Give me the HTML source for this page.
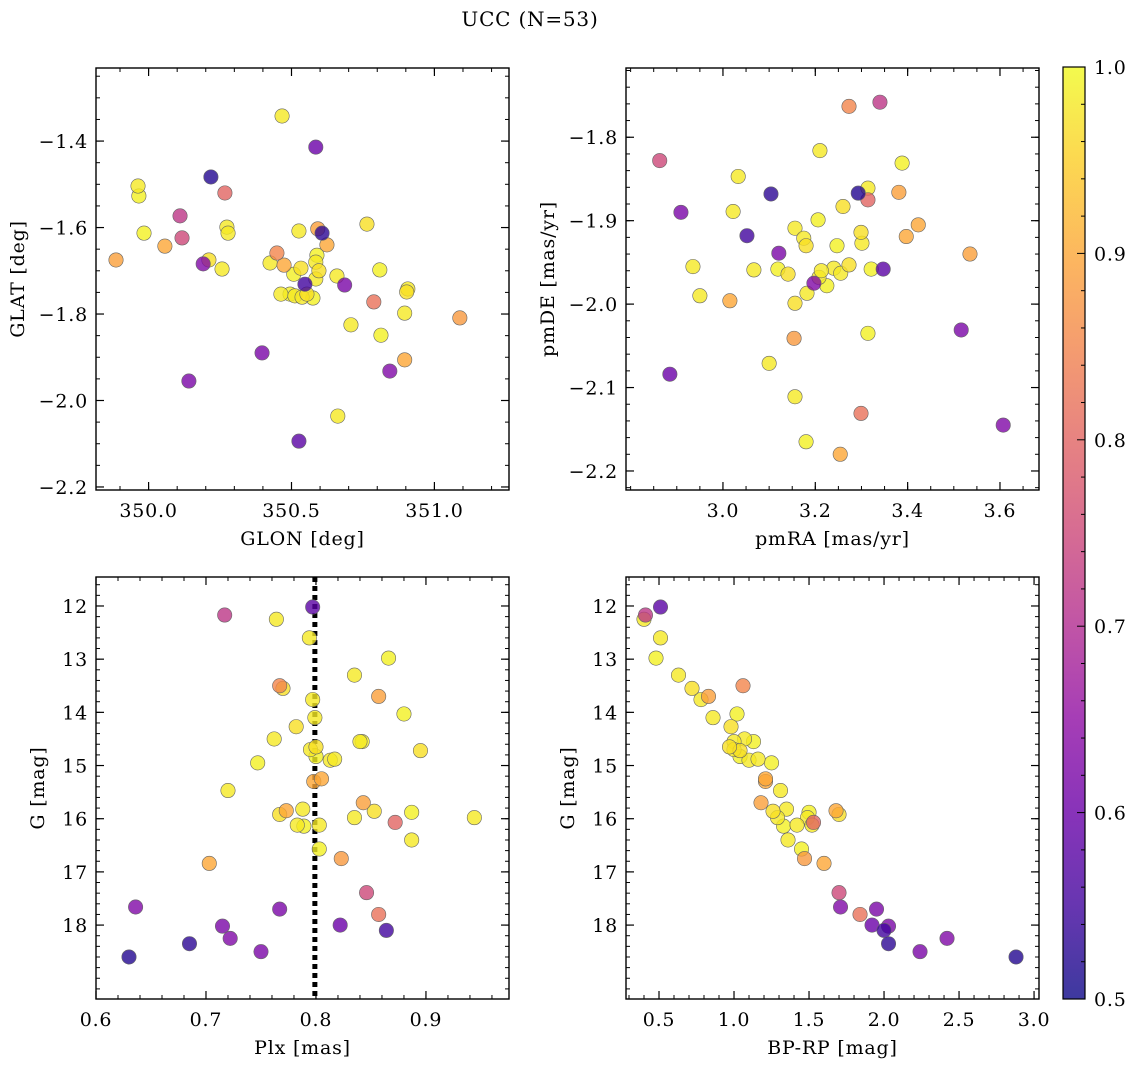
<!DOCTYPE html>
<html><head><meta charset="utf-8"><style>
body{margin:0;background:#fff;}
svg{display:block;font-family:"DejaVu Serif","Liberation Serif",serif;}
</style></head><body>
<svg id="chart" width="1136" height="1067" viewBox="0 0 1136 1067" xmlns="http://www.w3.org/2000/svg">
<defs>
<linearGradient id="plasma" x1="0" y1="1" x2="0" y2="0"></linearGradient>
</defs>
<text x="530" y="26" text-anchor="middle" font-size="20" letter-spacing="0.8">UCC (N=53)</text>
</svg>
<script>
// star data (one entry per star)
const prob = [0.52,0.53,0.55,0.58,0.60,0.63,0.62,0.62,0.63,0.62,
 0.72,0.75,0.80,0.82,0.85,0.89,0.90,0.90,0.89,0.90,0.88,0.90,
 0.98,0.98,0.99,0.98,0.97,0.98,0.99,0.98,0.97,0.98,0.99,0.98,0.98,0.97,0.99,0.98,0.98,0.99,0.98,0.97,0.98,0.99,0.98,0.98,0.97,0.99,0.98,0.98,0.99,0.98,0.97];
const plx = [0.630,0.685,0.864,0.797,0.822,0.636,0.767,0.715,0.722,0.750,
 0.717,0.846,0.872,0.857,0.767,0.857,0.798,0.805,0.843,0.773,0.823,0.703,
 0.764,0.794,0.866,0.835,0.770,0.797,0.880,0.799,0.782,0.762,0.842,0.840,0.795,0.895,0.800,0.813,0.817,0.747,0.720,0.853,0.788,0.887,0.944,0.835,0.767,0.789,0.783,0.887,0.803,0.803,0.800];
const gmag = [18.60,18.35,18.10,12.02,18.00,17.66,17.70,18.02,18.25,18.50,
 12.17,17.39,16.07,17.80,13.50,13.70,15.30,15.25,15.70,15.85,16.75,16.84,
 12.25,12.60,12.98,13.30,13.55,13.76,14.03,14.10,14.27,14.50,14.55,14.55,14.70,14.72,14.83,14.90,14.88,14.95,15.47,15.86,15.82,15.88,15.98,15.98,15.92,16.14,16.12,16.40,16.57,16.12,14.65];
const bprp = [2.88,2.03,2.00,0.51,1.92,1.71,1.95,2.03,2.42,2.24,
 0.41,1.70,1.53,1.84,1.06,0.83,1.21,1.21,1.18,1.68,1.47,1.60,
 0.40,0.51,0.48,0.63,0.72,0.78,1.02,0.86,0.98,1.07,1.13,1.00,1.00,1.04,1.04,1.10,1.16,1.25,1.31,1.26,1.35,1.50,1.29,1.49,1.70,1.33,1.42,1.36,1.45,1.52,0.97];
const glon = [350.218,350.607,350.547,350.526,350.585,350.191,350.686,350.397,350.844,350.141,
 350.110,350.117,350.267,350.788,350.449,350.592,350.624,350.057,349.886,350.896,351.089,350.474,
 350.467,349.963,349.966,350.274,350.764,350.278,349.984,350.526,350.211,350.425,350.589,350.585,350.257,350.533,350.508,350.585,350.659,350.809,350.907,350.903,350.463,350.495,350.512,350.537,350.554,350.575,350.708,350.896,350.813,350.662,350.596];
const glat = [-1.483,-1.613,-1.731,-2.094,-1.414,-1.684,-1.733,-1.890,-1.932,-1.955,
 -1.573,-1.624,-1.520,-1.772,-1.659,-1.603,-1.640,-1.643,-1.675,-1.906,-1.809,-1.687,
 -1.342,-1.504,-1.527,-1.599,-1.592,-1.613,-1.613,-1.608,-1.675,-1.682,-1.664,-1.680,-1.696,-1.694,-1.708,-1.719,-1.712,-1.698,-1.742,-1.749,-1.754,-1.754,-1.758,-1.761,-1.754,-1.763,-1.825,-1.798,-1.849,-2.036,-1.700];
const pmra = [3.293,3.104,3.052,3.347,2.885,3.607,2.909,3.121,3.197,3.516,
 3.340,2.863,3.314,3.299,3.273,3.381,3.423,3.397,3.535,3.015,3.154,3.254,
 3.210,3.033,3.388,3.314,3.260,3.022,3.206,3.156,3.299,3.175,3.247,3.301,2.935,3.273,3.119,3.240,3.067,3.321,3.255,3.141,3.208,3.225,3.182,2.950,3.156,3.314,3.100,3.156,3.180,3.213,3.180];
const pmde = [-1.867,-1.868,-1.918,-1.958,-2.084,-2.145,-1.890,-1.939,-1.975,-2.031,
 -1.758,-1.828,-1.875,-2.131,-1.763,-1.866,-1.905,-1.919,-1.940,-1.996,-2.041,-2.180,
 -1.816,-1.847,-1.831,-1.861,-1.883,-1.889,-1.899,-1.909,-1.914,-1.921,-1.930,-1.927,-1.955,-1.953,-1.958,-1.957,-1.959,-1.958,-1.963,-1.964,-1.968,-1.978,-1.987,-1.990,-1.999,-2.035,-2.071,-2.111,-2.165,-1.960,-1.930];
const plxLine = 0.799;

const NS="http://www.w3.org/2000/svg";
const svg=document.getElementById('chart');
function mk(tag,attrs,parent){const e=document.createElementNS(NS,tag);for(const k in attrs)e.setAttribute(k,attrs[k]);(parent||svg).appendChild(e);return e;}
const stops=[[0,13,8,135],[0.1,65,4,157],[0.2,106,0,168],[0.3,143,13,164],[0.4,177,42,144],[0.5,204,71,120],[0.6,225,100,98],[0.7,242,132,75],[0.8,252,166,54],[0.9,252,206,37],[1,240,249,33]];
function plasma(t){t=Math.max(0,Math.min(1,t));for(let i=1;i<stops.length;i++){if(t<=stops[i][0]){const a=stops[i-1],b=stops[i],f=(t-a[0])/(b[0]-a[0]);return `rgb(${[1,2,3].map(j=>Math.round(a[j]+f*(b[j]-a[j]))).join(',')})`;}}return 'rgb(240,249,33)';}
const grad=document.getElementById('plasma');
stops.forEach(s=>{mk('stop',{offset:s[0],'stop-color':`rgb(${s[1]},${s[2]},${s[3]})`,'stop-opacity':0.8},grad);});
const fmt=(v,d)=>(v<0?'−':'')+Math.abs(v).toFixed(d);
const FS=19, LS=0.8;

function panel(cfg){
 const g=mk('g',{});
 
 
 const {x0,x1,y0,y1}=cfg;
 const sx=v=>x0+(v-cfg.xd[0])/(cfg.xd[1]-cfg.xd[0])*(x1-x0);
 const sy=v=>cfg.inv? y0+(v-cfg.yd[0])/(cfg.yd[1]-cfg.yd[0])*(y1-y0) : y1-(v-cfg.yd[0])/(cfg.yd[1]-cfg.yd[0])*(y1-y0);
 function ticks(step,lo,hi){const a=[];for(let v=Math.ceil(lo/step-1e-6)*step;v<=hi+1e-9;v+=step)a.push(+v.toFixed(6));return a;}
 ticks(cfg.xminor,cfg.xd[0],cfg.xd[1]).forEach(v=>{const x=sx(v);mk('line',{x1:x,x2:x,y1:y1,y2:y1-4,stroke:'#000','stroke-width':1},g);mk('line',{x1:x,x2:x,y1:y0,y2:y0+4,stroke:'#000','stroke-width':1},g);});
 ticks(cfg.yminor,Math.min(...cfg.yd),Math.max(...cfg.yd)).forEach(v=>{const y=sy(v);mk('line',{x1:x0,x2:x0+4,y1:y,y2:y,stroke:'#000','stroke-width':1},g);mk('line',{x1:x1,x2:x1-4,y1:y,y2:y,stroke:'#000','stroke-width':1},g);});
 cfg.xticks.forEach(v=>{const x=sx(v);mk('line',{x1:x,x2:x,y1:y1,y2:y1-8,stroke:'#000','stroke-width':1.2},g);mk('line',{x1:x,x2:x,y1:y0,y2:y0+8,stroke:'#000','stroke-width':1.2},g);
  const t=mk('text',{x:x,y:y1+27,'text-anchor':'middle','font-size':FS,'letter-spacing':LS},g);t.textContent=fmt(v,cfg.xdec);
  
  });
 cfg.yticks.forEach(v=>{const y=sy(v);mk('line',{x1:x0,x2:x0+8,y1:y,y2:y,stroke:'#000','stroke-width':1.2},g);mk('line',{x1:x1,x2:x1-8,y1:y,y2:y,stroke:'#000','stroke-width':1.2},g);
  const t=mk('text',{x:x0-8,y:y+7,'text-anchor':'end','font-size':FS,'letter-spacing':LS},g);t.textContent=fmt(v,cfg.ydec);
  
  });
 if(cfg.vline!==undefined){const l=mk('line',{x1:sx(cfg.vline),x2:sx(cfg.vline),y1:y0,y2:y1,stroke:'#000','stroke-width':5,'stroke-dasharray':'5,4'},g);
  
  }
 const order=prob.map((p,i)=>i).sort((a,b)=>prob[b]-prob[a]);
 order.forEach(i=>{const c=mk('circle',{cx:sx(cfg.xs[i]),cy:sy(cfg.ys[i]),r:7.2,fill:plasma((prob[i]-0.5)/0.5),'fill-opacity':0.8,stroke:'#666','stroke-width':0.6},g);
  
  });
 mk('rect',{x:x0,y:y0,width:x1-x0,height:y1-y0,fill:'none',stroke:'#000','stroke-width':1.4},g);
 const xl=mk('text',{x:(x0+x1)/2,y:y1+55,'text-anchor':'middle','font-size':FS,'letter-spacing':LS},g);xl.textContent=cfg.xlabel;
 
 
 const yx=cfg.ylx, yy=(y0+y1)/2;
 const yl=mk('text',{x:yx,y:yy,'text-anchor':'middle','font-size':FS,'letter-spacing':LS,transform:`rotate(-90 ${yx} ${yy})`},g);yl.textContent=cfg.ylabel;
 
 
}
panel({name:'glon-glat-panel',x0:96,x1:509,y0:68,y1:490,xd:[349.816,351.261],yd:[-2.207,-1.231],xs:glon,ys:glat,xticks:[350.0,350.5,351.0],xminor:0.1,xdec:1,yticks:[-2.2,-2.0,-1.8,-1.6,-1.4],yminor:0.05,ydec:1,xlabel:'GLON [deg]',ylabel:'GLAT [deg]',ylx:24});
panel({name:'pm-panel',x0:626,x1:1039,y0:68,y1:490,xd:[2.790,3.6845],yd:[-2.2228,-1.717],xs:pmra,ys:pmde,xticks:[3.0,3.2,3.4,3.6],xminor:0.05,xdec:1,yticks:[-2.2,-2.1,-2.0,-1.9,-1.8],yminor:0.02,ydec:1,xlabel:'pmRA [mas/yr]',ylabel:'pmDE [mas/yr]',ylx:554});
panel({name:'plx-g-panel',x0:96,x1:509,y0:577,y1:999,xd:[0.6,0.9755],yd:[11.455,19.39],inv:true,xs:plx,ys:gmag,xticks:[0.6,0.7,0.8,0.9],xminor:0.02,xdec:1,yticks:[12,13,14,15,16,17,18],yminor:0.2,ydec:0,xlabel:'Plx [mas]',ylabel:'G [mag]',ylx:44,vline:plxLine});
panel({name:'cmd-panel',x0:626,x1:1039,y0:577,y1:999,xd:[0.28,3.033],yd:[11.455,19.39],inv:true,xs:bprp,ys:gmag,xticks:[0.5,1.0,1.5,2.0,2.5,3.0],xminor:0.1,xdec:1,yticks:[12,13,14,15,16,17,18],yminor:0.2,ydec:0,xlabel:'BP-RP [mag]',ylabel:'G [mag]',ylx:574});
// colorbar
const cb=mk('g',{});


mk('rect',{x:1063,y:67,width:22,height:932,fill:'url(#plasma)',stroke:'#000','stroke-width':1.2},cb);
const cy=v=>999-(v-0.5)/0.5*932;
for(let k=0;k<=25;k++){const v=0.5+k*0.02,y=cy(v),maj=k%5===0;mk('line',{x1:1085,x2:1085-(maj?8:4),y1:y,y2:y,stroke:'#000','stroke-width':1},cb);
 if(maj){const t=mk('text',{x:1094,y:y+7,'font-size':FS,'letter-spacing':LS},cb);t.textContent=v.toFixed(1);
 
 }}
</script>
</body></html>
